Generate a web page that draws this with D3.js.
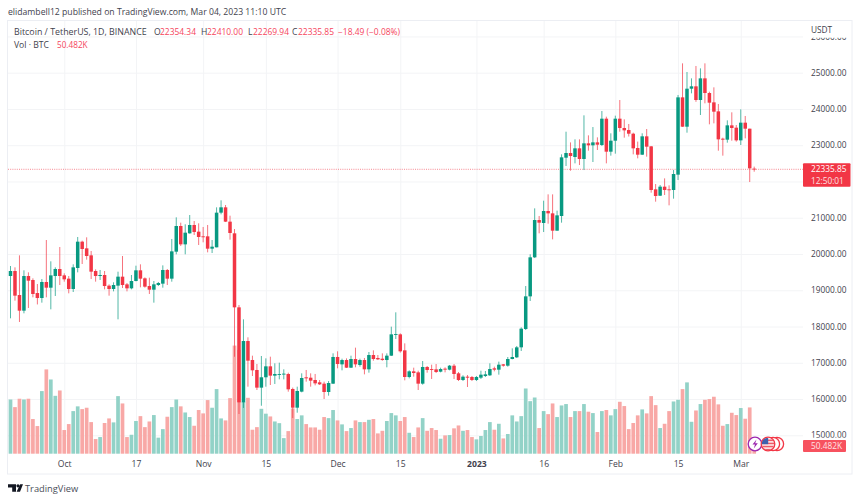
<!DOCTYPE html>
<html>
<head>
<meta charset="utf-8">
<script src="https://cdn.jsdelivr.net/npm/d3@7/dist/d3.min.js"></script>
<style>
  html, body { margin: 0; padding: 0; background: #fff; }
  svg { display: block; }
  text { font-family: "Open Sans", sans-serif; }
</style>
</head>
<body>
<svg id="chart" width="860" height="501"></svg>
<script>
let opens = [
  19393,19531,18869,18437,19393,19283,18924,18786,19228,19071,
  19393,19586,19411,19320,19035,19614,20340,20156,19963,19531,
  19393,19421,19127,19035,19127,19375,19163,19053,19255,19550,
  19329,19117,19016,19145,19182,19559,19320,20064,20772,20266,
  20570,20800,20616,20487,20487,20147,20184,21140,21287,20892,
  20570,18529,15909,17600,17077,16801,16314,16600,16902,16645,
  16672,16690,16690,16277,15762,16204,16599,16589,16525,16461,
  16424,16194,16424,17160,16957,17076,16865,17104,16939,17076,
  16819,17214,17132,17113,17076,17196,17775,17784,17343,16608,
  16764,16736,16424,16884,16828,16819,16755,16838,16810,16920,
  16709,16525,16617,16608,16525,16589,16635,16654,16847,16810,
  16957,16920,17104,17150,17426,17932,18832,19908,20937,20855,
  21186,21121,20643,21048,22656,22785,22675,22914,22620,23052,
  22997,23079,23006,23732,22822,23125,23732,23475,23419,23318,
  22923,22739,23245,22969,21783,21608,21857,21783,21765,22188,
  24320,23511,24559,24624,24247,24844,24440,24182,23934,23180,
  23153,23548,23484,23134,23622,23456,22354.34]
let closes = [
  19531,18851,18437,19393,19264,18897,18786,19228,19071,19411,
  19586,19393,19301,19035,19632,20340,20138,19945,19513,19393,
  19421,19117,19035,19145,19375,19145,19053,19255,19550,19320,
  19099,19016,19163,19200,19559,19320,20073,20772,20266,20588,
  20800,20607,20469,20469,20147,20202,21140,21287,20892,20579,
  18529,15909,17600,17058,16792,16314,16600,16902,16645,16690,
  16690,16700,16268,15762,16222,16580,16571,16507,16433,16406,
  16194,16442,17160,16966,17076,16865,17104,16957,17076,16819,
  17214,17104,17095,17076,17196,17784,17794,17316,16608,16764,
  16718,16424,16884,16801,16810,16746,16828,16810,16920,16691,
  16525,16617,16589,16525,16608,16672,16681,16828,16810,16948,
  16920,17104,17159,17426,17941,18832,19908,20937,20864,21186,
  21121,20643,21066,22666,22785,22702,22914,22620,23052,22997,
  23079,23015,23732,22822,23125,23732,23475,23410,23318,22914,
  22739,23245,22960,21765,21599,21857,21765,21765,22206,24320,
  23511,24559,24624,24247,24844,24440,24173,23925,23162,23153,
  23548,23475,23134,23622,23456,22362,22335.85]
let highs = [
  19669,19632,19963,19550,19494,19329,19172,19310,20386,19798,
  19632,20193,19467,19393,19715,20469,20368,20460,20083,19577,
  19559,19531,19163,19219,19513,19945,19200,19421,19678,19715,
  19356,19347,19255,19228,19687,19586,20414,21011,20864,20818,
  21075,20910,20846,20745,20800,20386,21287,21480,21351,21057,
  20689,18593,18198,17702,17196,16966,17187,17122,17168,16985,
  17003,16819,16727,16316,16341,16709,16801,16709,16691,16525,
  16479,16497,17261,17316,17113,17122,17196,17417,17113,17132,
  17297,17343,17214,17260,17260,17996,18391,17812,17536,16792,
  16865,16782,17049,16911,16948,16966,16865,16874,16939,16966,
  16746,16654,16663,16635,16635,16782,16773,16985,16893,17031,
  16966,17159,17398,17463,17977,19117,19991,21259,21048,21470,
  21645,21645,21195,22748,23373,23078,23162,23162,23824,23272,
  23502,23217,23943,23787,23328,23815,24247,23714,23585,23346,
  23100,23328,23447,22978,21930,21903,22086,21893,22316,24385,
  25258,25019,24844,25185,25120,25258,24476,24596,24137,23208,
  23686,23907,23557,23989,23806,23456,22410]
let lows = [
  18226,18713,18125,18364,18511,18805,18609,18658,18805,18474,
  18842,19145,19237,18915,18952,19494,19724,19844,19310,19237,
  19283,19025,18851,18970,18198,19062,18970,19025,19246,19081,
  19071,18897,18658,19117,19071,19145,19237,19991,20221,19991,
  20561,20524,20248,20322,20046,20027,20184,21094,20882,20395,
  17166,15588,15755,16341,16635,16249,15815,16341,16387,16415,
  16543,16543,16203,15476,15624,16185,16479,16341,16378,16387,
  16001,16093,16415,16847,16792,16856,16856,16875,16893,16681,
  16727,17058,17076,17058,16875,17187,17656,17279,16516,16571,
  16617,16249,16396,16727,16553,16718,16736,16736,16792,16553,
  16497,16497,16332,16497,16497,16552,16608,16635,16764,16672,
  16893,16893,17095,17132,17325,17904,18704,19889,20570,20606,
  20836,20404,20643,20864,22427,22298,22500,22454,22316,22850,
  22537,22868,22978,22500,22712,22767,23373,23208,23240,22748,
  22638,22730,22684,21691,21443,21599,21627,21342,21526,22040,
  23505,23346,24431,24197,23833,24155,23576,23603,22849,22712,
  23070,23125,23098,23006,23190,21985,22269.94]
let volumes = [
  355,305,360,355,360,227,181,410,552,486,
  379,414,155,194,279,310,292,301,207,96,
  109,201,231,205,377,329,109,124,214,246,
  174,211,253,105,161,242,305,355,310,270,
  240,183,286,264,351,301,423,231,218,364,
  708,680,340,366,157,174,294,262,244,211,
  200,102,148,296,227,251,194,172,172,157,
  240,233,286,218,192,148,168,218,207,207,
  222,227,133,150,214,266,251,214,240,137,
  109,172,233,150,168,155,98,120,122,166,
  185,150,155,109,94,116,155,207,157,196,
  100,129,251,211,246,427,344,368,168,279,
  259,329,240,316,325,240,279,279,325,275,
  266,142,279,286,251,292,340,312,161,201,
  251,290,264,377,318,168,196,279,342,353,
  423,467,209,283,325,353,358,373,323,183,
  194,268,253,299,229,303,50.482]

let priceTicks = [15000,16000,17000,18000,19000,20000,21000,22000,23000,24000,25000,26000]
// 22000 is covered by the last price tag in the picture
let priceLabels = [15000,16000,17000,18000,19000,20000,21000,23000,24000,25000,26000]
let timeTicks = ["2022-10-01","2022-10-17","2022-11-01","2022-11-15","2022-12-01","2022-12-15","2023-01-01","2023-01-16","2023-02-01","2023-02-15","2023-03-01"]
let timeLabels = ["Oct","17","Nov","15","Dec","15","2023","16","Feb","15","Mar"]

let firstDay = new Date(Date.UTC(2022, 8, 19))
let lastDay = new Date(Date.UTC(2023, 2, 4))
let days = d3.utcDay.range(firstDay, d3.utcDay.offset(lastDay, 1))

let upColor = "#089981", downColor = "#f23645"
let upVol = "#92d2c7", downVol = "#f8a8a6"
let gridColor = "#f3f4f6", textColor = "#3f424d", redText = "#f5455c"

let svg = d3.select("#chart")

let x = d3.scaleUtc().domain([firstDay, lastDay]).range([10.5, 754.2])
let y = d3.scaleLinear().domain([15000, 25000]).range([435.3, 72.7])
let v = d3.scaleLinear().domain([0, 700]).range([453.7, 346.8])

let defs = svg.append("defs")
// the 26000 label sits under the USDT header, only its lower edge shows
defs.append("clipPath").attr("id", "axisclip").append("rect")
  .attr("x", 0).attr("y", 37.7).attr("width", 48).attr("height", 400)
defs.append("clipPath").attr("id", "plotclip").append("rect")
  .attr("x", 8).attr("y", 21).attr("width", 795).attr("height", 433)
defs.append("clipPath").attr("id", "flagclip").append("circle")
  .attr("cx", 768).attr("cy", 444).attr("r", 6.2)

function label(tx, ty, str, color, size) {
  return svg.append("text").attr("x", tx).attr("y", ty).attr("fill", color)
    .attr("font-size", size).text(str)
}
label(8, 15, "elidambell12 published on TradingView.com, Mar 04, 2023 11:10 UTC", textColor, 8.66)

// grid
svg.append("g").attr("transform", "translate(8,0)")
  .call(d3.axisLeft(y).tickValues(priceTicks).tickSize(-795).tickFormat(""))
  .call(g => g.select(".domain").remove())
  .call(g => g.selectAll("line").attr("stroke", gridColor))

let tickDates = timeTicks.map(d => new Date(d + "T00:00:00Z"))
svg.append("g").attr("transform", "translate(0,454)")
  .call(d3.axisBottom(x).tickValues(tickDates).tickSize(-434).tickFormat(""))
  .call(g => g.select(".domain").remove())
  .call(g => g.selectAll("line").attr("stroke", gridColor))

let plot = svg.append("g").attr("clip-path", "url(#plotclip)")

// volume
plot.selectAll(".vol").data(days).enter().append("rect")
  .attr("class", "vol")
  .attr("x", d => x(d) - 1.85)
  .attr("width", 3.7)
  .attr("y", (d, i) => v(volumes[i]))
  .attr("height", (d, i) => v(0) - v(volumes[i]))
  .attr("fill", (d, i) => closes[i] >= opens[i] ? upVol : downVol)

// last price line
plot.append("line")
  .attr("x1", 8).attr("x2", 803)
  .attr("y1", y(closes[closes.length - 1])).attr("y2", y(closes[closes.length - 1]))
  .attr("stroke", downColor).attr("stroke-width", 0.9).attr("stroke-dasharray", "1 1.2").attr("opacity", 0.65)

// candles
let candle = plot.selectAll(".candle").data(days).enter().append("g").attr("class", "candle")
candle.append("line")
  .attr("x1", d => x(d)).attr("x2", d => x(d))
  .attr("y1", (d, i) => y(highs[i])).attr("y2", (d, i) => y(lows[i]))
  .attr("stroke", (d, i) => closes[i] >= opens[i] ? upColor : downColor)
  .attr("stroke-width", 0.7)
candle.append("rect")
  .attr("x", d => x(d) - 1.75)
  .attr("width", 3.5)
  .attr("y", (d, i) => y(Math.max(opens[i], closes[i])))
  .attr("height", (d, i) => Math.max(0.9, Math.abs(y(opens[i]) - y(closes[i]))))
  .attr("fill", (d, i) => closes[i] >= opens[i] ? upColor : downColor)

// price axis
svg.append("g").attr("transform", "translate(804,0)").attr("clip-path", "url(#axisclip)")
  .call(d3.axisRight(y).tickValues(priceLabels).tickSize(0).tickPadding(7).tickFormat(d3.format(".2f")))
  .call(g => g.select(".domain").remove())
  .call(g => g.selectAll("text").attr("fill", textColor).attr("font-size", 8.3).attr("font-family", "'Open Sans', sans-serif"))
label(811, 33, "USDT", textColor, 8.3)

// time axis
svg.append("g").attr("transform", "translate(0,454)")
  .call(d3.axisBottom(x).tickValues(tickDates).tickSize(0).tickPadding(7)
    .tickFormat((d, i) => timeLabels[i]))
  .call(g => g.select(".domain").remove())
  .call(g => g.selectAll("text").attr("fill", textColor).attr("font-size", 8.6).attr("font-family", "'Open Sans', sans-serif")
    .attr("font-weight", (d, i) => timeLabels[i] == "2023" ? 700 : 400))

// frame
svg.append("rect").attr("x", 7.5).attr("y", 20.5).attr("width", 844.5).attr("height", 453.5)
  .attr("fill", "none").attr("stroke", "#eceef3")

// legend
label(14, 35, "Bitcoin / TetherUS, 1D, BINANCE", textColor, 8.85)
label(154, 35, "O", textColor, 8.6)
label(160, 35, "22354.34", redText, 8.45)
label(201, 35, "H", textColor, 8.6)
label(207, 35, "22410.00", redText, 8.45)
label(248, 35, "L", textColor, 8.6)
label(253, 35, "22269.94", redText, 8.45)
label(292, 35, "C", textColor, 8.6)
label(298, 35, "22335.85", redText, 8.45)
label(338, 35, "\u221218.49 (\u22120.08%)", redText, 8.45)
label(14, 48, "Vol \u00b7 BTC", textColor, 8.6)
label(57, 48, "50.482K", redText, 8.2)

// last price tag
svg.append("rect").attr("x", 803).attr("y", 163.3).attr("width", 47.5).attr("height", 23.4).attr("rx", 1).attr("fill", "#f23645")
label(811, 172.4, "22335.85", "#ffffff", 8.3)
label(811, 184, "12:50:01", "#ffffff", 8.3).attr("opacity", 0.85)

// volume tag
svg.append("rect").attr("x", 803).attr("y", 440).attr("width", 43).attr("height", 12).attr("rx", 1).attr("fill", "#f7525f")
label(811, 449, "50.482K", "#ffe3e5", 8.3)

// event badges
let badges = svg.append("g")
badges.append("circle").attr("cx", 777).attr("cy", 444).attr("r", 6.6).attr("fill", "#fff").attr("stroke", "#f23645").attr("stroke-width", 1.3)
badges.append("circle").attr("cx", 773).attr("cy", 444).attr("r", 6.6).attr("fill", "#fff").attr("stroke", "#f23645").attr("stroke-width", 1.3)
badges.append("circle").attr("cx", 755).attr("cy", 444).attr("r", 6.8).attr("fill", "#fff").attr("stroke", "#9c27b0").attr("stroke-width", 1.3)
badges.append("path").attr("d", "M756.5 439.5 L752.5 444.6 L755 444.6 L753.8 448.5 L757.8 443.3 L755.2 443.3 Z").attr("fill", "#9c27b0")
badges.append("circle").attr("cx", 768).attr("cy", 444).attr("r", 6.8).attr("fill", "#fff").attr("stroke", "#f23645").attr("stroke-width", 1.3)
let flagStripes = [439.5, 442.6, 445.7, 448.8]
let flag = badges.append("g").attr("clip-path", "url(#flagclip)")
flag.selectAll(".stripe").data(flagStripes).enter().append("rect")
  .attr("x", 761).attr("y", d => d).attr("width", 14).attr("height", 1.7).attr("fill", "#ef5a68")
flag.append("rect").attr("x", 761).attr("y", 438).attr("width", 7.2).attr("height", 6.2).attr("fill", "#3f62ad")

// logo
svg.append("path")
  .attr("d", "M8 484.2 H16 V491.8 H12.2 V487.6 H8 Z M20.2 484.2 H23 L20 491.8 H16.6 Z")
  .attr("fill", "#131722")
svg.append("circle").attr("cx", 18).attr("cy", 485.8).attr("r", 1.6).attr("fill", "#131722")
label(25, 492, "TradingView", "#4a4e59", 9.3)
</script>
</body>
</html>
